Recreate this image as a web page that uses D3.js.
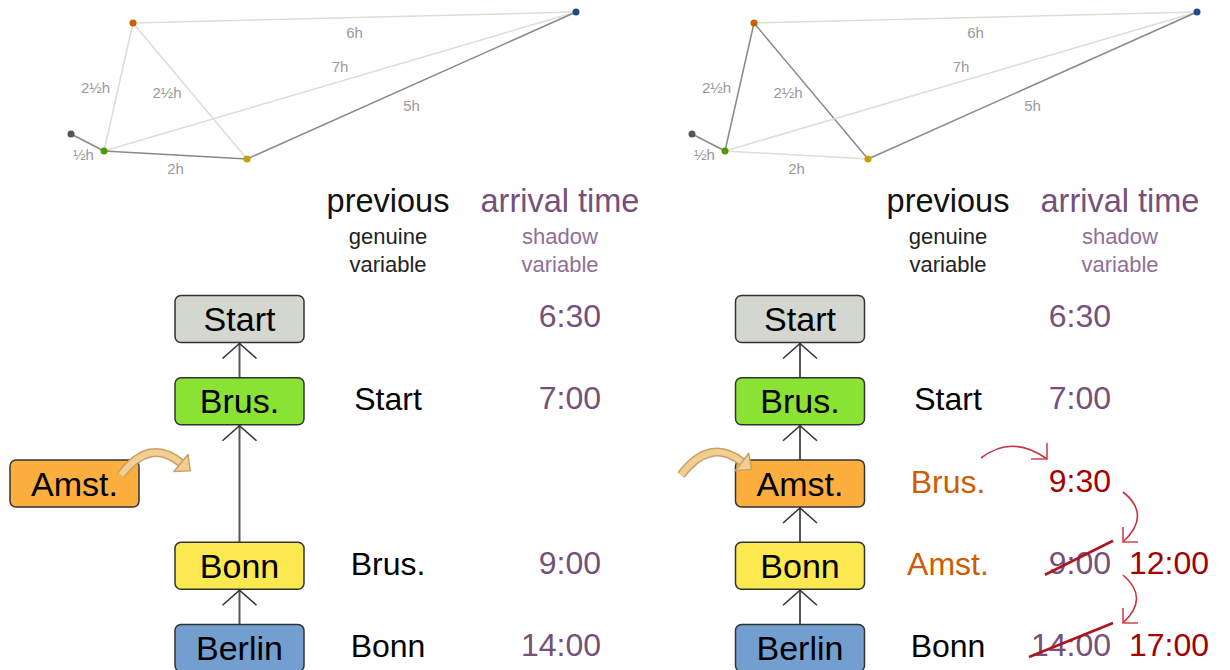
<!DOCTYPE html>
<html>
<head>
<meta charset="utf-8">
<script src="https://cdn.jsdelivr.net/npm/d3@7"></script>
<style>
  body { margin: 0; background: #fff; }
  svg { display: block; font-family: "Liberation Sans", Arial, sans-serif; }
</style>
</head>
<body>
<div id="chart"></div>
<script>
// cities of the little map, and their map coordinates
var cities = ["Start", "Brus.", "Amst.", "Bonn", "Berlin"];
var cityMapX = [71, 104, 133, 247, 576];
var cityMapY = [134, 151, 23, 159, 12];
var cityDot = ["#555753", "#4e9a06", "#ce5c00", "#c4a000", "#204a87"];
var cityBox = ["#d3d7cf", "#8ae234", "#fcaf3e", "#fce94f", "#729fcf"];

// roads with their driving time
var roads = [["Start", "Brus.", "½h"], ["Brus.", "Amst.", "2½h"], ["Amst.", "Bonn", "2½h"],
             ["Amst.", "Berlin", "6h"], ["Brus.", "Berlin", "7h"], ["Brus.", "Bonn", "2h"],
             ["Bonn", "Berlin", "5h"]];
var usedBefore = [0, 5, 6];        // roads on the tour before the move
var usedAfter = [0, 1, 2, 6];      // roads on the tour after the move

// table values (row = city)
var prevBefore = ["", "Start", "", "Brus.", "Bonn"];
var timeBefore = ["6:30", "7:00", "", "9:00", "14:00"];
var prevAfter = ["", "Start", "Brus.", "Amst.", "Bonn"];
var timeAfter = ["6:30", "7:00", "9:30", "9:00", "14:00"];
var newTime = ["", "", "", "12:00", "17:00"];

var width = 1230, height = 670;
var svg = d3.select("#chart").append("svg").attr("width", width).attr("height", height);

var panelShift = 621;
var mx = d3.scaleLinear().domain([0, 1]).range([0, 1]);
var my = d3.scaleLinear().domain([0, 1]).range([0, 1]);
var row = d3.scalePoint().domain(d3.range(cities.length)).range([319, 648]);

// label nudges per road (layout only)
var labelNudge = [[-4, 12], [-23, 1], [-23, 2], [0, 15], [0, -15], [0, 14], [0, 20]];

var purple = "#75507b", red = "#a40000", orange = "#ce5c00";

function idx(name) { return cities.indexOf(name); }

function drawMap(g, used) {
  g.selectAll("line.road").data(roads).enter().append("line")
    .attr("x1", function(d) { return mx(cityMapX[idx(d[0])]); })
    .attr("y1", function(d) { return my(cityMapY[idx(d[0])]); })
    .attr("x2", function(d) { return mx(cityMapX[idx(d[1])]); })
    .attr("y2", function(d) { return my(cityMapY[idx(d[1])]); })
    .attr("stroke", function(d, i) { return used.indexOf(i) >= 0 ? "#888a85" : "#dcddd5"; })
    .attr("stroke-width", 1.5);
  g.selectAll("text.road").data(roads).enter().append("text")
    .attr("x", function(d, i) { return (mx(cityMapX[idx(d[0])]) + mx(cityMapX[idx(d[1])])) / 2 + labelNudge[i][0]; })
    .attr("y", function(d, i) { return (my(cityMapY[idx(d[0])]) + my(cityMapY[idx(d[1])])) / 2 + labelNudge[i][1] + 5; })
    .attr("text-anchor", "middle")
    .attr("font-size", 15)
    .attr("fill", "#9a9a9a")
    .text(function(d) { return d[2]; });
  g.selectAll("circle").data(cities).enter().append("circle")
    .attr("cx", function(d, i) { return mx(cityMapX[i]); })
    .attr("cy", function(d, i) { return my(cityMapY[i]); })
    .attr("r", 3.5)
    .attr("fill", function(d, i) { return cityDot[i]; });
}

function headers(g, cx1, cx2) {
  g.append("text").attr("x", cx1).attr("y", 212).attr("text-anchor", "middle")
    .attr("font-size", 32.5).attr("fill", "#111").text("previous");
  g.append("text").attr("x", cx1).attr("y", 244).attr("text-anchor", "middle")
    .attr("font-size", 22).attr("fill", "#222").text("genuine");
  g.append("text").attr("x", cx1).attr("y", 272).attr("text-anchor", "middle")
    .attr("font-size", 22).attr("fill", "#222").text("variable");
  g.append("text").attr("x", cx2).attr("y", 212).attr("text-anchor", "middle")
    .attr("font-size", 32.5).attr("fill", purple).text("arrival time");
  g.append("text").attr("x", cx2).attr("y", 244).attr("text-anchor", "middle")
    .attr("font-size", 22).attr("fill", "#8f6f98").text("shadow");
  g.append("text").attr("x", cx2).attr("y", 272).attr("text-anchor", "middle")
    .attr("font-size", 22).attr("fill", "#8f6f98").text("variable");
}

var boxW = 129, boxH = 47;

function box(g, cx, i) {
  var cy = row(i);
  g.append("rect").attr("x", cx - boxW / 2).attr("y", cy - boxH / 2)
    .attr("width", boxW).attr("height", boxH).attr("rx", 6)
    .attr("fill", cityBox[i]).attr("stroke", "#2e3436").attr("stroke-width", 1.5);
  g.append("text").attr("x", cx).attr("y", cy + 12).attr("text-anchor", "middle")
    .attr("font-size", 34).attr("fill", "#000").text(cities[i]);
}

// link from lower box (from) up to upper box (to) with an open chevron under the upper box
function link(g, cx, from, to) {
  var top = row(to) + boxH / 2, bottom = row(from) - boxH / 2;
  g.append("line").attr("x1", cx).attr("x2", cx).attr("y1", bottom).attr("y2", top)
    .attr("stroke", "#555").attr("stroke-width", 2);
  g.append("path")
    .attr("d", "M" + (cx - 17) + "," + (top + 16) + "L" + cx + "," + (top + 1) + "L" + (cx + 17) + "," + (top + 16))
    .attr("fill", "none").attr("stroke", "#333").attr("stroke-width", 1.6);
}

function fatArrow(g, x0, y0, x1, y1, x2, y2) {
  var p = d3.path();
  p.moveTo(x0, y0); p.quadraticCurveTo(x1, y1, x2, y2);
  g.append("path").attr("d", p.toString()).attr("fill", "none")
    .attr("stroke", "#c9a063").attr("stroke-width", 9).attr("stroke-linecap", "butt");
  g.append("path").attr("d", p.toString()).attr("fill", "none")
    .attr("stroke", "#f1cf92").attr("stroke-width", 6);
  var a = Math.atan2(y2 - y1, x2 - x1);
  var nx = -Math.sin(a), ny = Math.cos(a);
  var tip = [x2 + Math.cos(a) * 12, y2 + Math.sin(a) * 12];
  var pts = [[x2 + nx * 11, y2 + ny * 11], tip, [x2 - nx * 11, y2 - ny * 11]];
  g.append("path").attr("d", "M" + pts.join("L") + "Z")
    .attr("fill", "#f1cf92").attr("stroke", "#c9a063").attr("stroke-width", 1.5)
    .attr("stroke-linejoin", "round");
}

function redArrow(g, x0, y0, x1, y1, x2, y2, legA, legB) {
  var p = d3.path();
  p.moveTo(x0, y0); p.quadraticCurveTo(x1, y1, x2, y2);
  g.append("path").attr("d", p.toString()).attr("fill", "none")
    .attr("stroke", "#c8323a").attr("stroke-width", 1.6);
  g.append("path")
    .attr("d", "M" + (x2 + legA[0]) + "," + (y2 + legA[1]) + "L" + x2 + "," + y2 + "L" + (x2 + legB[0]) + "," + (y2 + legB[1]))
    .attr("fill", "none").attr("stroke", "#d0464c").attr("stroke-width", 1.6);
}

// ---------- left panel: before ----------
var L = svg.append("g");
drawMap(L, usedBefore);
headers(L, 388, 560);
var colL = 239.5;
link(L, colL, 1, 0);
link(L, colL, 3, 1);
link(L, colL, 4, 3);
[0, 1, 3, 4].forEach(function(i) { box(L, colL, i); });
box(L, 74.5, 2);
fatArrow(L, 121, 475, 150, 437, 181, 463);

L.selectAll("text.prev").data(prevBefore).enter().append("text")
  .attr("x", 388).attr("y", function(d, i) { return row(i) + 9; })
  .attr("text-anchor", "middle").attr("font-size", 32).attr("fill", "#000")
  .text(function(d) { return d; });
L.selectAll("text.time").data(timeBefore).enter().append("text")
  .attr("x", 601).attr("y", function(d, i) { return row(i) + 8; })
  .attr("text-anchor", "end").attr("font-size", 32).attr("fill", purple)
  .text(function(d) { return d; });

// ---------- right panel: after ----------
var R = svg.append("g").attr("transform", "translate(" + panelShift + ",0)");
drawMap(R, usedAfter);
headers(R, 948 - panelShift, 1120 - panelShift);
var colR = 800 - panelShift;
link(R, colR, 1, 0);
link(R, colR, 2, 1);
link(R, colR, 3, 2);
link(R, colR, 4, 3);
d3.range(cities.length).forEach(function(i) { box(R, colR, i); });
fatArrow(R, 60, 475, 89, 437, 121, 462);

R.selectAll("text.prev").data(prevAfter).enter().append("text")
  .attr("x", 948 - panelShift).attr("y", function(d, i) { return row(i) + 9; })
  .attr("text-anchor", "middle").attr("font-size", 32)
  .attr("fill", function(d, i) { return (i === 2 || i === 3) ? orange : "#000"; })
  .text(function(d) { return d; });
R.selectAll("text.time").data(timeAfter).enter().append("text")
  .attr("x", 1111 - panelShift).attr("y", function(d, i) { return row(i) + 8; })
  .attr("text-anchor", "end").attr("font-size", 32)
  .attr("fill", function(d, i) { return i === 2 ? red : purple; })
  .text(function(d) { return d; });
R.selectAll("text.newtime").data(newTime).enter().append("text")
  .attr("x", 1129 - panelShift).attr("y", function(d, i) { return row(i) + 8; })
  .attr("text-anchor", "start").attr("font-size", 32).attr("fill", red)
  .text(function(d) { return d; });

// strike-throughs of the outdated times
R.selectAll("line.strike").data([3, 4]).enter().append("line")
  .attr("x1", function(d) { return (d === 3 ? 1045 : 1029) - panelShift; })
  .attr("y1", function(d) { return row(d) + 9; })
  .attr("x2", 1113 - panelShift)
  .attr("y2", function(d) { return row(d) - 25; })
  .attr("stroke", "#b0141c").attr("stroke-width", 2.6);

// red chain reaction arrows
redArrow(R, 981 - panelShift, 458, 1012 - panelShift, 434, 1047 - panelShift, 459, [0, -16], [-16, 0]);
redArrow(R, 1123 - panelShift, 492, 1152 - panelShift, 515, 1123 - panelShift, 542, [0, -15], [15, 0]);
redArrow(R, 1123 - panelShift, 575, 1150 - panelShift, 598, 1123 - panelShift, 623, [0, -15], [15, 0]);
</script>
</body>
</html>
